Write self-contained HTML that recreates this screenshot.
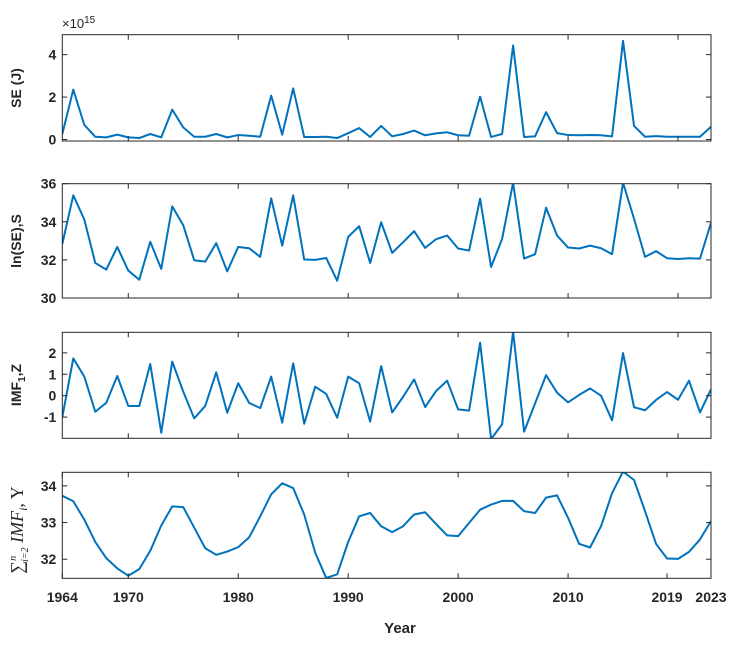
<!DOCTYPE html>
<html><head><meta charset="utf-8"><style>
body{margin:0;background:#fff;}
svg{display:block;font-family:"Liberation Sans",sans-serif;}
</style></head><body>
<svg id="chart" width="742" height="646" viewBox="0 0 742 646" xmlns="http://www.w3.org/2000/svg"></svg>
<script>
const years = [];
for (let y = 1964; y <= 2023; y++) years.push(y);
const seValues = [0.26,2.35,0.69,0.13,0.1,0.23,0.1,0.07,0.26,0.1,1.41,0.57,0.13,0.13,0.26,0.1,0.21,0.18,0.13,2.07,0.23,2.41,0.12,0.12,0.13,0.07,0.3,0.54,0.12,0.64,0.15,0.26,0.42,0.2,0.29,0.34,0.2,0.18,2.02,0.12,0.26,4.43,0.12,0.15,1.29,0.3,0.21,0.2,0.21,0.2,0.15,4.65,0.64,0.13,0.16,0.13,0.13,0.13,0.13,0.6];
const lnValues = [32.84,35.39,34.12,31.84,31.49,32.68,31.44,30.96,32.95,31.53,34.81,33.82,31.98,31.91,32.88,31.4,32.68,32.61,32.16,35.23,32.75,35.39,32.02,32.0,32.1,30.91,33.21,33.77,31.84,33.98,32.37,32.93,33.51,32.63,33.09,33.28,32.6,32.49,35.21,31.63,33.1,36.05,32.07,32.3,34.74,33.28,32.65,32.6,32.75,32.61,32.3,36.05,34.16,32.16,32.46,32.09,32.05,32.09,32.07,33.95];
const imfValues = [-1.0,1.74,0.89,-0.75,-0.33,0.92,-0.48,-0.48,1.48,-1.73,1.59,0.19,-1.06,-0.48,1.09,-0.79,0.58,-0.34,-0.58,0.89,-1.26,1.51,-1.31,0.42,0.08,-1.03,0.89,0.58,-1.21,1.38,-0.78,-0.05,0.76,-0.53,0.22,0.7,-0.64,-0.7,2.47,-2.02,-1.34,2.99,-1.68,-0.36,0.96,0.14,-0.31,0.03,0.34,0.0,-1.15,1.99,-0.54,-0.68,-0.2,0.17,-0.19,0.7,-0.78,0.3];
const sumValues = [33.73,33.58,33.08,32.47,32.03,31.75,31.55,31.73,32.23,32.92,33.44,33.42,32.86,32.3,32.12,32.21,32.33,32.6,33.17,33.77,34.07,33.94,33.22,32.18,31.49,31.59,32.47,33.17,33.26,32.9,32.74,32.9,33.22,33.28,32.96,32.65,32.63,32.99,33.35,33.49,33.59,33.59,33.31,33.26,33.68,33.74,33.13,32.42,32.32,32.9,33.8,34.39,34.16,33.31,32.42,32.02,32.01,32.2,32.54,33.04];
const seTicks = [0,2,4];
const lnTicks = [30,32,34,36];
const imfTicks = [-1,0,1,2];
const sumTicks = [32,33,34];
const topXTicks = [1970,1980,1990,2000,2010,2020];
const bottomXTicks = [1964,1970,1980,1990,2000,2010,2019,2023];

const NS = "http://www.w3.org/2000/svg";
const svg = document.getElementById("chart");
const X0 = 62.3, X1 = 711;
const xScale = y => X0 + (y - 1964) * (X1 - X0) / (2023 - 1964);
function el(tag, attrs, parent) {
  const e = document.createElementNS(NS, tag);
  for (const k in attrs) e.setAttribute(k, attrs[k]);
  (parent || svg).appendChild(e);
  return e;
}
const panels = [
  {name:"se", data:seValues, ticks:seTicks, top:34.7, bottom:141, ymin:-0.07, ymax:4.94, xt:topXTicks},
  {name:"ln", data:lnValues, ticks:lnTicks, top:183.7, bottom:298, ymin:30, ymax:36.0, xt:topXTicks},
  {name:"imf", data:imfValues, ticks:imfTicks, top:332.3, bottom:438.3, ymin:-1.99, ymax:2.96, xt:topXTicks},
  {name:"sum", data:sumValues, ticks:sumTicks, top:472.3, bottom:578.3, ymin:31.48, ymax:34.37, xt:bottomXTicks}
];
panels.forEach((p, pi) => {
  const g = el("g", {});
  
  
  const ys = v => p.bottom - (v - p.ymin) * (p.bottom - p.top) / (p.ymax - p.ymin);
  const cid = "clip" + pi;
  const cp = el("clipPath", {id: cid}, g);
  el("rect", {x: X0, y: p.top, width: X1 - X0, height: p.bottom - p.top}, cp);
  const pts = p.data.map((v, i) => xScale(years[i]).toFixed(2) + "," + ys(v).toFixed(2)).join(" ");
  const line = el("polyline", {points: pts, fill: "none", stroke: "#0072BD", "stroke-width": 2, "stroke-linejoin": "round", "clip-path": "url(#" + cid + ")"}, g);
  
  
  const box = el("rect", {x: X0, y: p.top, width: X1 - X0, height: p.bottom - p.top, fill: "none", stroke: "#262626", "stroke-width": 1}, g);
  
  
  p.ticks.forEach(t => {
    const y = ys(t);
    el("line", {x1: X0, x2: X0 + 5, y1: y, y2: y, stroke: "#262626"}, g);
    el("line", {x1: X1, x2: X1 - 5, y1: y, y2: y, stroke: "#262626"}, g);
    const tx = el("text", {x: X0 - 6, y: y + 5, "text-anchor": "end", "font-size": 14, "font-weight": "bold", fill: "#262626"}, g);
    tx.textContent = t;
    
    
  });
  p.xt.forEach(t => {
    const x = xScale(t);
    el("line", {x1: x, x2: x, y1: p.bottom, y2: p.bottom - 5, stroke: "#262626"}, g);
    el("line", {x1: x, x2: x, y1: p.top, y2: p.top + 5, stroke: "#262626"}, g);
    if (pi === 3) {
      const tx = el("text", {x: x, y: 602, "text-anchor": "middle", "font-size": 14, "font-weight": "bold", fill: "#262626"}, g);
      tx.textContent = t;
      
      
    }
  });
});
</script>
<svg style="position:absolute;left:0;top:0" width="742" height="646" xmlns="http://www.w3.org/2000/svg">
  <text x="62" y="28" font-size="13" fill="#262626" font-family="Liberation Sans, sans-serif">×10<tspan dy="-5" font-size="10">15</tspan></text>
  <text transform="translate(21,88) rotate(-90)" text-anchor="middle" font-size="14" font-weight="bold" fill="#262626" font-family="Liberation Sans, sans-serif">SE (J)</text>
  <text transform="translate(21,241) rotate(-90)" text-anchor="middle" font-size="14" font-weight="bold" fill="#262626" font-family="Liberation Sans, sans-serif">ln(SE),S</text>
  <text transform="translate(21,385) rotate(-90)" text-anchor="middle" font-size="14" font-weight="bold" fill="#262626" font-family="Liberation Sans, sans-serif">IMF<tspan dy="4" font-size="10">1</tspan><tspan dy="-4">,Z</tspan></text>
  <text transform="translate(23,530) rotate(-90)" text-anchor="middle" font-size="18" fill="#262626" font-family="Liberation Serif, serif">∑<tspan dy="-7" font-size="10" font-style="italic">n</tspan><tspan dx="-6" dy="12" font-size="10" font-style="italic">i=2</tspan><tspan dy="-5" font-style="italic"> IMF</tspan><tspan dy="4" font-size="12" font-style="italic">i</tspan><tspan dy="-4">, Y</tspan></text>
  <text x="400" y="633" text-anchor="middle" font-size="15" font-weight="bold" fill="#262626" font-family="Liberation Sans, sans-serif">Year</text>
</svg>
</body></html>
